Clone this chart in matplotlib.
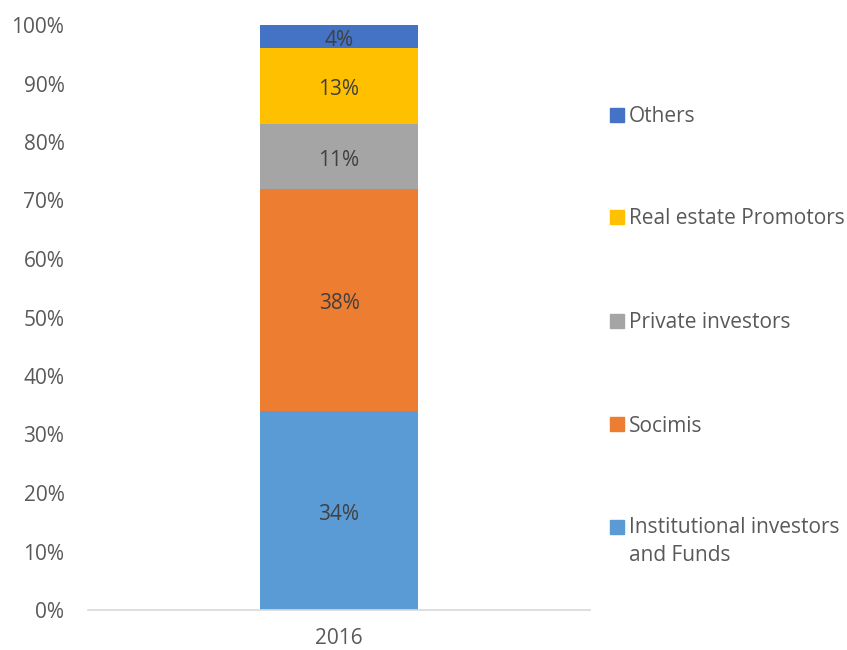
import matplotlib
matplotlib.use("Agg")
import matplotlib.pyplot as plt
from matplotlib.patches import Rectangle

plt.rcParams['font.family'] = ['Open Sans', 'DejaVu Sans']

categories = ["2016"]
series_names = ["Institutional investors\nand Funds", "Socimis", "Private investors",
                "Real estate Promotors", "Others"]
series_values = [34, 38, 11, 13, 4]
series_colors = ["#5B9BD5", "#ED7D31", "#A5A5A5", "#FFC000", "#4472C4"]
y_ticks = [0, 10, 20, 30, 40, 50, 60, 70, 80, 90, 100]

FS = 15

fig = plt.figure(figsize=(8.47, 6.5), dpi=100)
ax = fig.add_axes([88/847, 1-610/650, (590-88)/847, (610-25)/650])

bottom = 0
for name, val, col in zip(series_names, series_values, series_colors):
    ax.bar(categories, [val], bottom=[bottom], width=0.315, color=col, label=name)
    ax.annotate(f"{val}%", xy=(0, bottom + val/2), xytext=(0, -2.5),
                textcoords='offset points', ha='center', va='center',
                fontsize=FS, color='#404040')
    bottom += val

ax.set_xlim(-0.5, 0.5)
ax.set_ylim(0, 100)
ax.set_yticks(y_ticks)
ax.set_yticklabels([f"{t}%" for t in y_ticks])
for s in ['top', 'right', 'left']:
    ax.spines[s].set_visible(False)
ax.spines['bottom'].set_color('#D9D9D9')
ax.spines['bottom'].set_linewidth(1.2)
ax.tick_params(axis='both', length=0, labelsize=FS, colors='#595959')
ax.tick_params(axis='x', pad=13)
ax.tick_params(axis='y', pad=17)

# legend (reverse order, handles aligned with first text line)
leg_y = [115, 217, 321, 424, 527]
for name, col, yp in zip(series_names[::-1], series_colors[::-1], leg_y):
    fig.add_artist(Rectangle((610/847, 1-(yp+7)/650), 14/847, 14/650,
                             transform=fig.transFigure, color=col))
    if '\n' in name:
        fig.text(629/847, 1-(yp-10)/650, name, ha='left', va='top',
                 fontsize=FS, color='#595959', linespacing=1.45)
    else:
        fig.text(629/847, 1-(yp+2)/650, name, ha='left', va='center',
                 fontsize=FS, color='#595959')

fig.savefig("out.png", dpi=100)
